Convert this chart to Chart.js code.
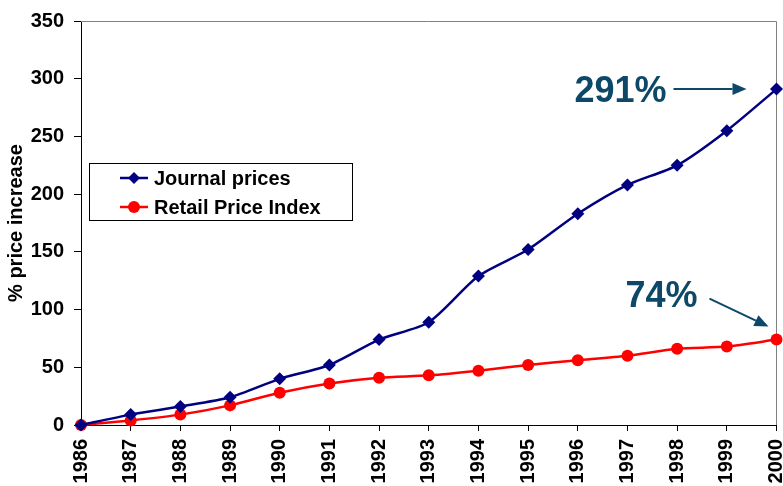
<!DOCTYPE html>
<html>
<head>
<meta charset="utf-8">
<script src="https://cdn.jsdelivr.net/npm/chart.js@4.4.0/dist/chart.umd.min.js"></script>
<style>
  html, body { margin: 0; padding: 0; background: #fff; }
  #wrap { width: 783px; height: 486px; }
</style>
</head>
<body>
<div id="wrap"><canvas id="myChart" width="783" height="486"></canvas></div>
<script>
var years = ["1986", "1987", "1988", "1989", "1990", "1991", "1992", "1993",
  "1994", "1995", "1996", "1997", "1998", "1999", "2000"];
var journalPrices = [0, 9, 16, 24, 40, 52, 74, 89, 129, 152, 183, 208, 225, 255, 291];
var retailPriceIndex = [0, 4, 9, 17, 28, 36, 41, 43, 47, 52, 56, 60, 66, 68, 74];
var seriesNames = ["Journal prices", "Retail Price Index"];
var yMin = 0, yMax = 350, yStep = 50;
var callouts = ["291%", "74%"];

var FONT = '"Liberation Sans", Arial, sans-serif';
var CALLOUT_COLOR = "#0d4868";

function arrow(ctx, x1, y1, x2, y2) {
  var ang = Math.atan2(y2 - y1, x2 - x1);
  var len = 14, half = 6;
  var bx = x2 - Math.cos(ang) * len, by = y2 - Math.sin(ang) * len;
  ctx.beginPath();
  ctx.moveTo(x1, y1);
  ctx.lineTo(bx, by);
  ctx.stroke();
  ctx.beginPath();
  ctx.moveTo(x2, y2);
  ctx.lineTo(bx - Math.sin(ang) * half, by + Math.cos(ang) * half);
  ctx.lineTo(bx + Math.sin(ang) * half, by - Math.cos(ang) * half);
  ctx.closePath();
  ctx.fill();
}

var framePlugin = {
  id: "frame",
  beforeDatasetsDraw: function (chart) {
    var a = chart.chartArea, ctx = chart.ctx;
    ctx.save();
    ctx.strokeStyle = "#808080";
    ctx.lineWidth = 1;
    ctx.beginPath();
    ctx.moveTo(a.left, Math.round(a.top) + 0.5);
    ctx.lineTo(Math.round(a.right) - 0.5, Math.round(a.top) + 0.5);
    ctx.lineTo(Math.round(a.right) - 0.5, a.bottom);
    ctx.stroke();
    ctx.restore();
  }
};

var overlayPlugin = {
  id: "overlay",
  afterDraw: function (chart) {
    var ctx = chart.ctx;
    var p = chart.getDatasetMeta(0).data[journalPrices.length - 1];
    var q = chart.getDatasetMeta(1).data[retailPriceIndex.length - 1];

    ctx.save();
    ctx.fillStyle = CALLOUT_COLOR;
    ctx.strokeStyle = CALLOUT_COLOR;
    ctx.lineWidth = 2;
    ctx.font = "bold 36px " + FONT;
    ctx.textAlign = "right";
    ctx.textBaseline = "alphabetic";
    ctx.fillText(callouts[0], p.x - 110, p.y + 13);
    arrow(ctx, p.x - 103, p.y, p.x - 30, p.y);
    ctx.fillText(callouts[1], q.x - 79, q.y - 33);
    arrow(ctx, q.x - 67, q.y - 41, q.x - 8, q.y - 13);
    ctx.restore();

    // legend box
    ctx.save();
    ctx.fillStyle = "#fff";
    ctx.fillRect(89.5, 163.5, 263, 57);
    ctx.strokeStyle = "#000";
    ctx.lineWidth = 1;
    ctx.strokeRect(89.5, 163.5, 263, 57);
    ctx.font = "bold 20px " + FONT;
    ctx.textAlign = "left";
    ctx.textBaseline = "middle";
    var rows = [178, 207];
    chart.data.datasets.forEach(function (ds, i) {
      var y = rows[i];
      ctx.strokeStyle = ds.borderColor;
      ctx.fillStyle = ds.borderColor;
      ctx.lineWidth = 2.5;
      ctx.beginPath();
      ctx.moveTo(120, y);
      ctx.lineTo(148, y);
      ctx.stroke();
      ctx.beginPath();
      if (ds.pointStyle === "rectRot") {
        ctx.moveTo(134, y - 6);
        ctx.lineTo(140, y);
        ctx.lineTo(134, y + 6);
        ctx.lineTo(128, y);
        ctx.closePath();
      } else {
        ctx.arc(134, y, 6, 0, Math.PI * 2);
      }
      ctx.fill();
      ctx.fillStyle = "#000";
      ctx.fillText(ds.label, 154, y + 1);
    });
    ctx.restore();
  }
};

var ctx = document.getElementById("myChart").getContext("2d");
var myChart = new Chart(ctx, {
  type: "line",
  data: {
    labels: years,
    datasets: [
      {
        label: seriesNames[0],
        data: journalPrices,
        borderColor: "#000080",
        backgroundColor: "#000080",
        borderWidth: 2.5,
        pointStyle: "rectRot",
        pointRadius: 6.5,
        pointBorderWidth: 0,
        tension: 0.25,
        clip: false
      },
      {
        label: seriesNames[1],
        data: retailPriceIndex,
        borderColor: "#ff0000",
        backgroundColor: "#ff0000",
        borderWidth: 2.5,
        pointStyle: "circle",
        pointRadius: 6,
        pointBorderWidth: 0,
        tension: 0.25,
        clip: false
      }
    ]
  },
  options: {
    responsive: false,
    animation: false,
    layout: { padding: { left: 0, top: 21, right: 5, bottom: 0 } },
    plugins: {
      legend: { display: false },
      tooltip: { enabled: false }
    },
    scales: {
      x: {
        offset: false,
        grid: { display: true, drawOnChartArea: false, drawTicks: true, tickLength: 6, color: "#000" },
        border: { color: "#000", width: 1 },
        ticks: {
          color: "#000",
          font: { family: FONT, size: 20, weight: "bold" },
          minRotation: 90,
          maxRotation: 90,
          autoSkip: false,
          padding: 8
        },
        afterFit: function (scale) {
          scale.height = 61;
          scale.paddingLeft = 0;
          scale.paddingRight = 0;
        }
      },
      y: {
        min: yMin,
        max: yMax,
        grid: { display: true, drawOnChartArea: false, drawTicks: true, tickLength: 7, color: "#000" },
        border: { color: "#000", width: 1 },
        ticks: {
          stepSize: yStep,
          color: "#000",
          font: { family: FONT, size: 20, weight: "bold" },
          padding: 10
        },
        title: {
          display: true,
          text: "% price increase",
          color: "#000",
          font: { family: FONT, size: 20, weight: "bold" },
          padding: { top: 4, bottom: 4 }
        },
        afterFit: function (scale) {
          scale.width = 81;
          scale.paddingTop = 0;
          scale.paddingBottom = 0;
        }
      }
    }
  },
  plugins: [framePlugin, overlayPlugin]
});
</script>
</body>
</html>
